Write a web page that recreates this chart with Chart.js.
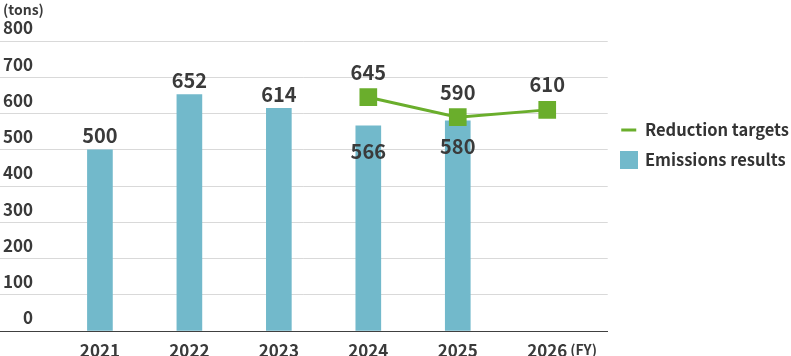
<!DOCTYPE html>
<html><head><meta charset="utf-8">
<script src="https://cdn.jsdelivr.net/npm/chart.js@4.4.1/dist/chart.umd.min.js"></script>
<style>html,body{margin:0;padding:0;background:#fff}#wrap{width:791px;height:356px;position:relative}</style>
</head><body><div id="wrap"><canvas id="c" width="791" height="356"></canvas></div>
<script>
const years = [2021, 2022, 2023, 2024, 2025, 2026];
const emissions = [500, 652, 614, 566, 580, null];
const targets = [null, null, null, 645, 590, 610];
const yTickValues = [0, 100, 200, 300, 400, 500, 600, 700, 800];
const unitLabel = '(tons)';
const fyLabel = '(FY)';
const seriesNames = ['Reduction targets', 'Emissions results'];

const FONT = '"Noto Sans CJK JP", "Noto Sans", sans-serif';
const TEXT = '#3a3a3a';
const BAR = '#72B9CB';
const GREEN = '#6AAE2C';

function legendIcon(kind) {
  const c = document.createElement('canvas');
  c.width = 18; c.height = 18;
  const g = c.getContext('2d');
  if (kind === 'line') {
    g.fillStyle = GREEN;
    g.fillRect(1, 8, 15, 3);
  } else {
    g.fillStyle = BAR;
    g.fillRect(0, 0, 18, 18);
  }
  return c;
}
const lineIcon = legendIcon('line');
const rectIcon = legendIcon('rect');

const extraText = {
  id: 'extraText',
  afterDatasetsDraw(chart) {
    const ctx = chart.ctx;
    ctx.save();
    ctx.fillStyle = TEXT;
    ctx.textAlign = 'center';
    ctx.textBaseline = 'middle';
    ctx.font = `bold 20px ${FONT}`;
    const barMeta = chart.getDatasetMeta(1);
    barMeta.data.forEach((el, i) => {
      const v = emissions[i];
      if (v == null) return;
      const inside = targets[i] != null;
      ctx.fillText(String(v), el.x, inside ? el.y + 26 : el.y - 14);
    });
    const lineMeta = chart.getDatasetMeta(0);
    lineMeta.data.forEach((el, i) => {
      const v = targets[i];
      if (v == null) return;
      ctx.fillText(String(v), el.x, el.y - 25);
    });
    ctx.textAlign = 'left';
    ctx.font = `bold 14px ${FONT}`;
    ctx.fillText(unitLabel, 3, 10);
    const xs = chart.scales.x;
    const last = years[years.length - 1];
    ctx.font = `bold 17px ${FONT}`;
    const w = ctx.measureText(String(last)).width;
    const px = xs.getPixelForValue(last) + w / 2 + 3;
    ctx.font = `bold 14px ${FONT}`;
    ctx.fillText(fyLabel, px, xs.top + 19);
    ctx.restore();
  }
};

new Chart(document.getElementById('c'), {
  type: 'bar',
  data: {
    datasets: [
      {
        type: 'line',
        label: seriesNames[0],
        data: years.map((x, i) => ({ x, y: targets[i] })),
        borderColor: GREEN,
        backgroundColor: GREEN,
        borderWidth: 3,
        pointStyle: 'rect',
        pointRadius: 12.5,
        pointBorderWidth: 0,
        pointBackgroundColor: GREEN,
        order: 0
      },
      {
        type: 'bar',
        label: seriesNames[1],
        data: years.map((x, i) => ({ x, y: emissions[i] })),
        backgroundColor: BAR,
        borderWidth: 0,
        barThickness: 25,
        order: 1
      }
    ]
  },
  options: {
    responsive: false,
    animation: false,
    layout: { autoPadding: false, padding: { top: 41, left: 0, right: -8, bottom: 0 } },
    scales: {
      x: {
        type: 'linear',
        offset: false,
        min: 2019.883,
        max: 2026.676,
        grid: { display: false, drawTicks: false, offset: false },
        border: { display: true, color: '#404040', width: 1 },
        afterBuildTicks(scale) { scale.ticks = years.map(v => ({ value: v })); },
        afterFit(scale) { scale.height = 25; scale.paddingLeft = 0; scale.paddingRight = 0; },
        ticks: {
          autoSkip: false,
          maxRotation: 0,
          padding: 9,
          color: TEXT,
          font: { family: FONT, size: 17, weight: 'bold' },
          callback: v => String(v)
        }
      },
      y: {
        min: 0,
        max: 800,
        grid: { color: '#d9d9d9', lineWidth: 1, drawTicks: false },
        border: { display: false },
        afterBuildTicks(scale) { scale.ticks = yTickValues.map(v => ({ value: v })); },
        afterFit(scale) { scale.width = 0; scale.paddingTop = 0; scale.paddingBottom = 0; },
        ticks: {
          mirror: true,
          crossAlign: 'far',
          padding: 3,
          labelOffset: -13,
          color: TEXT,
          font: { family: FONT, size: 17, weight: 'bold' },
          callback: v => String(v)
        }
      }
    },
    plugins: {
      tooltip: { enabled: false },
      legend: {
        position: 'right',
        align: 'start',
        title: { display: true, text: '', padding: { top: 65, bottom: 0 }, font: { size: 1 } },
        labels: {
          usePointStyle: true,
          boxHeight: 18,
          pointStyleWidth: 15,
          padding: 14,
          color: '#333',
          font: { family: FONT, size: 16.5, weight: 'bold' },
          generateLabels(chart) {
            return chart.data.datasets.map((ds, i) => ({
              text: ds.label,
              fillStyle: i === 0 ? GREEN : BAR,
              strokeStyle: i === 0 ? GREEN : BAR,
              lineWidth: 0,
              pointStyle: i === 0 ? lineIcon : rectIcon,
              fontColor: '#333',
              hidden: false,
              datasetIndex: i
            }));
          }
        }
      }
    }
  },
  plugins: [extraText]
});
</script>
</body></html>
